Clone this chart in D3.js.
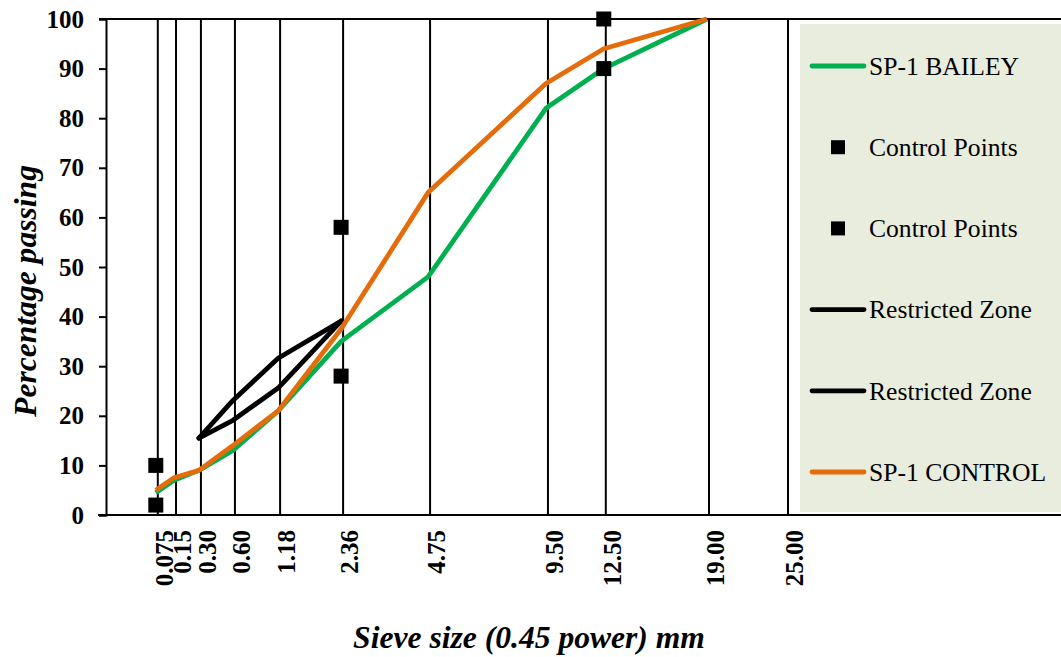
<!DOCTYPE html>
<html>
<head>
<meta charset="utf-8">
<script src="https://cdn.jsdelivr.net/npm/d3@7"></script>
<style>
  html, body { margin: 0; padding: 0; background: #fff; }
  svg { display: block; }
  text { font-family: "Liberation Serif", "Times New Roman", serif; fill: #000; }
</style>
</head>
<body>
<div id="chart"></div>
<script>
// Sieve sizes (mm) plotted on a 0.45-power axis
const sieves = [0.075, 0.15, 0.30, 0.60, 1.18, 2.36, 4.75, 9.50, 12.50, 19.00];
const gridSizes = [0.075, 0.15, 0.30, 0.60, 1.18, 2.36, 4.75, 9.50, 12.50, 19.00, 25.00];
const gridLabels = ["0.075", "0.15", "0.30", "0.60", "1.18", "2.36", "4.75", "9.50", "12.50", "19.00", "25.00"];

// Gradation curves (% passing)
const baileyPassing  = [4.5, 7, 9, 13, 21, 35, 48, 82, 90, 100];
const controlPassing = [5, 7.5, 9, 14, 21, 37.5, 65, 87, 94, 100];

// Superpave control points
const controlSizes = [0.075, 2.36, 12.50];
const controlLower = [2, 28, 90];
const controlUpper = [10, 58, 100];

// Restricted zone boundaries
const zoneSizes = [0.30, 0.60, 1.18, 2.36];
const zoneUpper = [15.5, 23.1, 31.6, 39.1];
const zoneLower = [15.5, 19.1, 25.6, 39.1];

const yTicks = [0, 10, 20, 30, 40, 50, 60, 70, 80, 90, 100];

const W = 1061, H = 657;
const plotLeft = 106, plotTop = 19, plotBottom = 515;

const svg = d3.select("#chart").append("svg")
  .attr("width", W).attr("height", H);

const x = d3.scalePow().exponent(0.45).domain([0, 25]).range([plotLeft, 786]);
const y = d3.scaleLinear().domain([0, 100]).range([plotBottom, plotTop]);

// Legend panel background
svg.append("rect")
  .attr("x", 800).attr("y", 24)
  .attr("width", W - 800).attr("height", 488)
  .attr("fill", "#e9edde");

// Vertical sieve lines
const gridShift = 2;
svg.append("g").selectAll("line").data(gridSizes).join("line")
  .attr("x1", d => x(d) + gridShift).attr("x2", d => x(d) + gridShift)
  .attr("y1", y(0)).attr("y2", y(100))
  .attr("stroke", "#000").attr("stroke-width", 2);

// Frame lines along top and bottom
svg.append("line").attr("x1", plotLeft - 7).attr("x2", W)
  .attr("y1", y(100)).attr("y2", y(100))
  .attr("stroke", "#000").attr("stroke-width", 2);
svg.append("line").attr("x1", plotLeft - 8).attr("x2", W)
  .attr("y1", y(0)).attr("y2", y(0))
  .attr("stroke", "#000").attr("stroke-width", 2);

// Y axis
const yAxis = svg.append("g")
  .attr("transform", `translate(${plotLeft},0)`)
  .call(d3.axisLeft(y).tickValues(yTicks).tickSize(7).tickPadding(15).tickFormat(d3.format("d")));
yAxis.select(".domain").attr("stroke", "#000").attr("stroke-width", 2);
yAxis.selectAll(".tick line").attr("stroke", "#000").attr("stroke-width", 2);
yAxis.selectAll(".tick text")
  .attr("font-family", "Liberation Serif, serif")
  .attr("font-size", 25).attr("font-weight", "bold").attr("fill", "#000");

// X tick labels, rotated
svg.append("g").selectAll("text").data(gridSizes).join("text")
  .attr("transform", d => `translate(${x(d) + 17},530) rotate(-90)`)
  .attr("text-anchor", "end")
  .attr("font-size", 25).attr("font-weight", "bold")
  .text((d, i) => gridLabels[i]);

const line = d3.line().x(d => x(d[0])).y(d => y(d[1]));

// SP-1 BAILEY
svg.append("path")
  .datum(sieves.map((s, i) => [s, baileyPassing[i]]))
  .attr("d", line).attr("fill", "none")
  .attr("stroke", "#00b050").attr("stroke-width", 4.8).attr("stroke-linejoin", "round");

// Control points
const marker = 15;
[controlLower, controlUpper].forEach(vals => {
  svg.append("g").selectAll("rect").data(controlSizes).join("rect")
    .attr("x", (d) => x(d) - marker / 2)
    .attr("y", (d, i) => y(vals[i]) - marker / 2)
    .attr("width", marker).attr("height", marker)
    .attr("fill", "#000");
});

// Restricted zone
[zoneUpper, zoneLower].forEach(vals => {
  svg.append("path")
    .datum(zoneSizes.map((s, i) => [s, vals[i]]))
    .attr("d", line).attr("fill", "none")
    .attr("stroke", "#000").attr("stroke-width", 4.8)
    .attr("stroke-linejoin", "round").attr("stroke-linecap", "round");
});

// SP-1 CONTROL
svg.append("path")
  .datum(sieves.map((s, i) => [s, controlPassing[i]]))
  .attr("d", line).attr("fill", "none")
  .attr("stroke", "#e46c0a").attr("stroke-width", 4.8).attr("stroke-linejoin", "round");

// Legend
const legendItems = [
  { label: "SP-1 BAILEY", type: "line", color: "#00b050" },
  { label: "Control Points", type: "marker", color: "#000" },
  { label: "Control Points", type: "marker", color: "#000" },
  { label: "Restricted Zone", type: "line", color: "#000" },
  { label: "Restricted Zone", type: "line", color: "#000" },
  { label: "SP-1 CONTROL", type: "line", color: "#e46c0a" }
];
const legY = d3.scalePoint().domain(d3.range(legendItems.length)).range([66, 472]);
const leg = svg.append("g").selectAll("g").data(legendItems).join("g")
  .attr("transform", (d, i) => `translate(0,${legY(i)})`);
leg.filter(d => d.type === "line").append("line")
  .attr("x1", 812).attr("x2", 864).attr("y1", 0).attr("y2", 0)
  .attr("stroke", d => d.color).attr("stroke-width", 4.8).attr("stroke-linecap", "round");
leg.filter(d => d.type === "marker").append("rect")
  .attr("x", 831).attr("y", -7).attr("width", 14).attr("height", 14)
  .attr("fill", d => d.color);
leg.append("text")
  .attr("x", 869).attr("y", 0).attr("dy", "0.34em")
  .attr("font-size", 25.6)
  .text(d => d.label);

// Axis titles
svg.append("text")
  .attr("x", 529).attr("y", 648)
  .attr("text-anchor", "middle")
  .attr("font-size", 31.6).attr("font-weight", "bold").attr("font-style", "italic")
  .text("Sieve size (0.45 power) mm");
svg.append("text")
  .attr("transform", "translate(36,291) rotate(-90)")
  .attr("text-anchor", "middle")
  .attr("font-size", 31.6).attr("font-weight", "bold").attr("font-style", "italic")
  .text("Percentage passing");
</script>
</body>
</html>
